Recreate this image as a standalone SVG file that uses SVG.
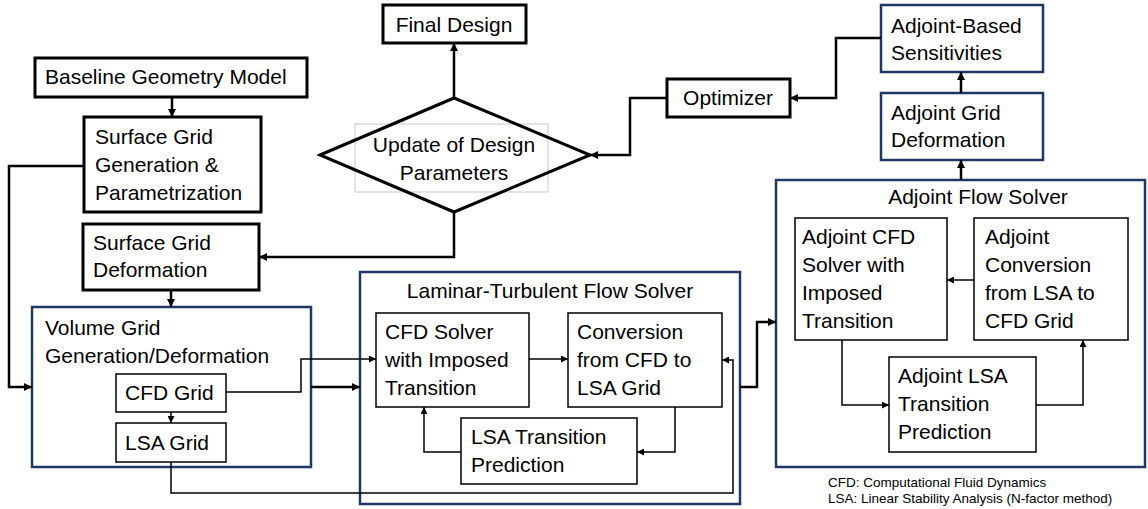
<svg xmlns="http://www.w3.org/2000/svg" width="1148" height="509" viewBox="0 0 1148 509">
<defs>
<style>
text{font-family:"Liberation Sans",Arial,sans-serif;font-size:21px;fill:#000}
.foot{font-size:13.5px}
.bk{fill:#fff;stroke:#000;stroke-width:3}
.nv{fill:#fff;stroke:#1f3864;stroke-width:2.5}
.in{fill:#fff;stroke:#000;stroke-width:1.5}
.thk{fill:none;stroke:#000;stroke-width:2.5}
.thn{fill:none;stroke:#000;stroke-width:1.5}
.mid{text-anchor:middle}
</style>
<marker id="a" viewBox="0 0 8 8" refX="8" refY="4" markerWidth="8" markerHeight="8" markerUnits="userSpaceOnUse" orient="auto"><path d="M0,0 L8,4 L0,8 z" fill="#000"/></marker>
<marker id="b" viewBox="0 0 8 8" refX="8" refY="4" markerWidth="7" markerHeight="7" markerUnits="userSpaceOnUse" orient="auto"><path d="M0,0 L8,4 L0,8 z" fill="#000"/></marker>
</defs>
<rect width="1148" height="509" fill="#fff"/>
<g id="n-baseline"><rect class="bk" x="35" y="58" width="272" height="39"/><text x="45" y="84">Baseline Geometry Model</text></g>
<g id="n-surfgen"><rect class="bk" x="84" y="117" width="177" height="95"/><text x="95" y="144">Surface Grid</text><text x="95" y="172">Generation &amp;</text><text x="95" y="200">Parametrization</text></g>
<g id="n-surfdef"><rect class="bk" x="83" y="224" width="176" height="66"/><text x="93" y="250">Surface Grid</text><text x="93" y="277">Deformation</text></g>
<g id="n-volume"><rect class="nv" x="32" y="307" width="279" height="160"/><text x="45" y="335">Volume Grid</text><text x="45" y="363">Generation/Deformation</text></g>
<g id="n-cfdgrid"><rect class="in" x="116" y="374" width="110" height="38"/><text x="125" y="400">CFD Grid</text></g>
<g id="n-lsagrid"><rect class="in" x="116" y="423" width="110" height="39"/><text x="125" y="450">LSA Grid</text></g>
<g id="n-final"><rect class="bk" x="383" y="5" width="143" height="38"/><text x="454" y="32" class="mid">Final Design</text></g>
<g id="n-update"><rect x="355" y="124" width="193" height="68" fill="none" stroke="#c8c8c8" stroke-width="1"/><polygon points="320,155 454,98 590,155 454,212" fill="none" stroke="#000" stroke-width="3"/><text x="454" y="152" class="mid">Update of Design</text><text x="454" y="180" class="mid">Parameters</text></g>
<g id="n-optimizer"><rect class="bk" x="667" y="79" width="123" height="38"/><text x="728" y="105" class="mid">Optimizer</text></g>
<g id="n-sens"><rect class="nv" x="881" y="5" width="162" height="67"/><text x="891" y="33">Adjoint-Based</text><text x="891" y="60">Sensitivities</text></g>
<g id="n-adjgrid"><rect class="nv" x="881" y="93" width="162" height="67"/><text x="891" y="120">Adjoint Grid</text><text x="891" y="147">Deformation</text></g>
<g id="n-adjflow"><rect class="nv" x="776" y="180" width="369" height="287"/><text x="978" y="204" class="mid">Adjoint Flow Solver</text></g>
<g id="n-adjcfd"><rect class="in" x="795" y="218" width="152" height="122"/><text x="802" y="244">Adjoint CFD</text><text x="802" y="272">Solver with</text><text x="802" y="300">Imposed</text><text x="802" y="328">Transition</text></g>
<g id="n-adjconv"><rect class="in" x="974" y="218" width="154" height="122"/><text x="985" y="244">Adjoint</text><text x="985" y="272">Conversion</text><text x="985" y="300">from LSA to</text><text x="985" y="328">CFD Grid</text></g>
<g id="n-adjlsa"><rect class="in" x="889" y="357" width="147" height="95"/><text x="898" y="383">Adjoint LSA</text><text x="898" y="411">Transition</text><text x="898" y="439">Prediction</text></g>
<g id="n-laminar"><rect class="nv" x="360" y="272" width="380" height="232"/><text x="550" y="298" class="mid">Laminar-Turbulent Flow Solver</text></g>
<g id="n-cfdsolver"><rect class="in" x="376" y="313" width="153" height="94"/><text x="385" y="339">CFD Solver</text><text x="385" y="367">with Imposed</text><text x="385" y="395">Transition</text></g>
<g id="n-conv"><rect class="in" x="568" y="313" width="154" height="94"/><text x="577" y="339">Conversion</text><text x="577" y="367">from CFD to</text><text x="577" y="395">LSA Grid</text></g>
<g id="n-lsatrans"><rect class="in" x="461" y="418" width="176" height="66"/><text x="471" y="444">LSA Transition</text><text x="471" y="472">Prediction</text></g>
<g id="connectors">
<path class="thk" d="M172,97 V117" marker-end="url(#a)"/>
<path class="thk" d="M84,166 H9 V387 H32" marker-end="url(#a)"/>
<path class="thk" d="M454,212 V257 H259" marker-end="url(#a)"/>
<path class="thk" d="M454,98 V43" marker-end="url(#a)"/>
<path class="thk" d="M667,98 H630 V155 H590" marker-end="url(#a)"/>
<path class="thk" d="M881,38 H836 V98 H790" marker-end="url(#a)"/>
<path class="thk" d="M961,93 V72" marker-end="url(#a)"/>
<path class="thk" d="M961,180 V160" marker-end="url(#a)"/>
<path class="thk" d="M171,290 V307" marker-end="url(#a)"/>
<path class="thn" d="M171,412 V423" marker-end="url(#b)"/>
<path class="thn" d="M226,392 H301 V359 H376" marker-end="url(#b)"/>
<path class="thk" d="M311,387 H360" marker-end="url(#a)"/>
<path class="thn" d="M171,462 V493 H733 V360 H722" marker-end="url(#b)"/>
<path class="thn" d="M529,359 H568" marker-end="url(#b)"/>
<path class="thn" d="M675,407 V452 H637" marker-end="url(#b)"/>
<path class="thn" d="M461,452 H424 V407" marker-end="url(#b)"/>
<path class="thk" d="M740,387 H757 V322 H776" marker-end="url(#a)"/>
<path class="thn" d="M974,280 H947" marker-end="url(#b)"/>
<path class="thn" d="M842,340 V405 H889" marker-end="url(#b)"/>
<path class="thn" d="M1036,405 H1083 V340" marker-end="url(#b)"/>
</g>
<text class="foot" x="828" y="487">CFD: Computational Fluid Dynamics</text>
<text class="foot" x="828" y="503">LSA: Linear Stability Analysis (N-factor method)</text>
</svg>
